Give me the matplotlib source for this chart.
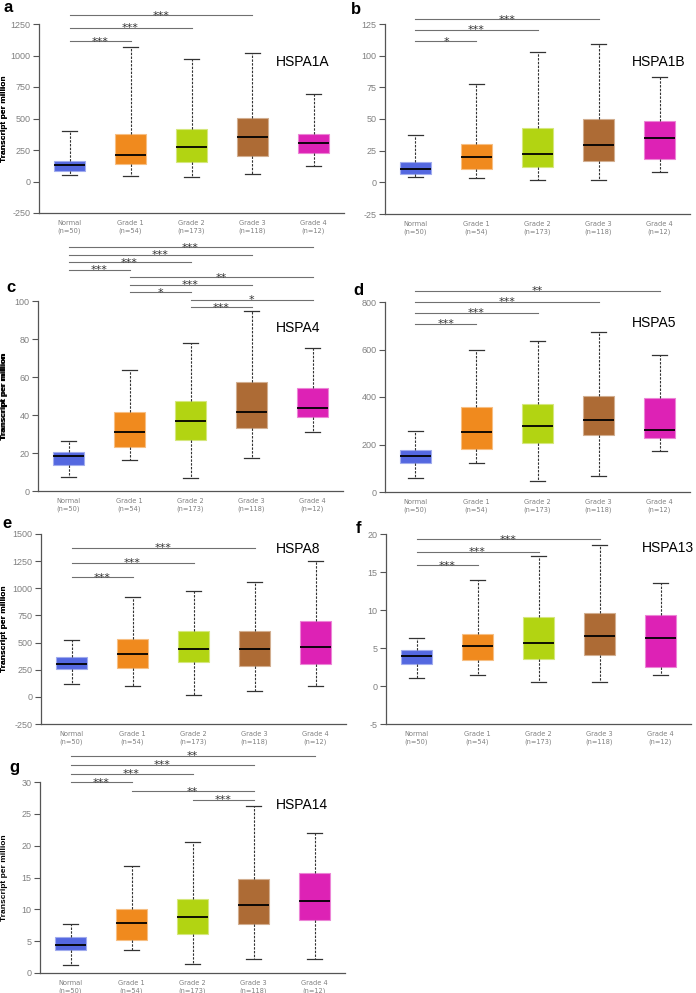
import matplotlib
matplotlib.use('Agg')
import matplotlib.pyplot as plt
import matplotlib.transforms as mtransforms
from matplotlib.colors import to_rgb

plt.rcParams['font.family'] = ['Liberation Sans', 'DejaVu Sans']

W, H = 696, 993

categories = ['Normal', 'Grade 1', 'Grade 2', 'Grade 3', 'Grade 4']
sample_sizes = [50, 54, 173, 118, 12]
box_colors = ['#5468E0', '#F08A1E', '#B2D412', '#AD6B35', '#DD22B5']

# box statistics: lower whisker, Q1, median, Q3, upper whisker
HSPA1A_lo = [53, 40, 34, 58, 124]
HSPA1A_q1 = [87, 137, 158, 206, 230]
HSPA1A_med = [127, 214, 275, 354, 309]
HSPA1A_q3 = [166, 380, 417, 502, 380]
HSPA1A_hi = [401, 1069, 974, 1016, 697]
HSPA1A_pairs = [(0, 1), (0, 2), (0, 3)]
HSPA1A_stars = ['***', '***', '***']

HSPA1B_lo = [3.9, 3.2, 1.8, 1.8, 8.4]
HSPA1B_q1 = [6.3, 10.3, 12.4, 16.8, 18.4]
HSPA1B_med = [10.3, 19.7, 22.6, 29.2, 35.2]
HSPA1B_q3 = [15.8, 30.0, 42.6, 50.0, 48.7]
HSPA1B_hi = [37.3, 77.3, 102.6, 109.4, 83.4]
HSPA1B_pairs = [(0, 1), (0, 2), (0, 3)]
HSPA1B_stars = ['*', '***', '***']

HSPA4_lo = [7.2, 16.1, 6.7, 17.4, 30.8]
HSPA4_q1 = [13.8, 23.1, 26.8, 33.1, 39.0]
HSPA4_med = [18.4, 31.0, 36.6, 41.8, 43.9]
HSPA4_q3 = [20.7, 41.6, 47.4, 57.5, 54.4]
HSPA4_hi = [26.1, 63.5, 77.8, 94.6, 75.5]
HSPA4_pairs = [(2, 3), (2, 4), (1, 2), (1, 3), (1, 4), (0, 1), (0, 2), (0, 3), (0, 4)]
HSPA4_stars = ['***', '*', '*', '***', '**', '***', '***', '***', '***']

HSPA5_lo = [61, 121, 47, 66, 173]
HSPA5_q1 = [124, 183, 205, 239, 226]
HSPA5_med = [150, 253, 276, 303, 260]
HSPA5_q3 = [176, 357, 371, 403, 396]
HSPA5_hi = [257, 597, 636, 675, 576]
HSPA5_pairs = [(0, 1), (0, 2), (0, 3), (0, 4)]
HSPA5_stars = ['***', '***', '***', '**']

HSPA8_lo = [116, 98, 21, 52, 101]
HSPA8_q1 = [257, 266, 318, 288, 300]
HSPA8_med = [300, 398, 441, 441, 460]
HSPA8_q3 = [368, 533, 603, 610, 695]
HSPA8_hi = [524, 919, 971, 1059, 1249]
HSPA8_pairs = [(0, 1), (0, 2), (0, 3)]
HSPA8_stars = ['***', '***', '***']

HSPA13_lo = [1.1, 1.4, 0.48, 0.53, 1.4]
HSPA13_q1 = [2.9, 3.4, 3.6, 4.07, 2.5]
HSPA13_med = [3.9, 5.25, 5.65, 6.56, 6.26]
HSPA13_q3 = [4.77, 6.8, 9.06, 9.6, 9.4]
HSPA13_hi = [6.3, 13.9, 17.1, 18.5, 13.5]
HSPA13_pairs = [(0, 1), (0, 2), (0, 3)]
HSPA13_stars = ['***', '***', '***']

HSPA14_lo = [1.26, 3.6, 1.47, 2.15, 2.15]
HSPA14_q1 = [3.56, 5.2, 6.2, 7.7, 8.3]
HSPA14_med = [4.4, 7.9, 8.8, 10.7, 11.36]
HSPA14_q3 = [5.7, 10.05, 11.7, 14.7, 15.76]
HSPA14_hi = [7.75, 16.75, 20.5, 26.3, 22.0]
HSPA14_pairs = [(2, 3), (1, 3), (0, 1), (0, 2), (0, 3), (0, 4)]
HSPA14_stars = ['***', '**', '***', '***', '***', '**']

# layout (pixels): letter, gene, axes left, axes top, axes bottom, yticks,
# first bracket offset below axes top, bracket step, gene label pos, letter pos
panels = [
    dict(letter='a', gene='HSPA1A', data=(HSPA1A_lo, HSPA1A_q1, HSPA1A_med, HSPA1A_q3, HSPA1A_hi),
         pairs=HSPA1A_pairs, stars=HSPA1A_stars, left=39, top=24, bottom=213,
         yt=(-250, 1250, 250), off=17, step=13, gpos=(303, 62), lpos=(3, 12.5)),
    dict(letter='b', gene='HSPA1B', data=(HSPA1B_lo, HSPA1B_q1, HSPA1B_med, HSPA1B_q3, HSPA1B_hi),
         pairs=HSPA1B_pairs, stars=HSPA1B_stars, left=385, top=24, bottom=214,
         yt=(-25, 125, 25), off=17, step=11, gpos=(659, 62), lpos=(351, 13.5)),
    dict(letter='c', gene='HSPA4', data=(HSPA4_lo, HSPA4_q1, HSPA4_med, HSPA4_q3, HSPA4_hi),
         pairs=HSPA4_pairs, stars=HSPA4_stars, left=38, top=301, bottom=491,
         yt=(0, 100, 20), off=6, step=7.5, gpos=(298, 328), lpos=(6, 292)),
    dict(letter='d', gene='HSPA5', data=(HSPA5_lo, HSPA5_q1, HSPA5_med, HSPA5_q3, HSPA5_hi),
         pairs=HSPA5_pairs, stars=HSPA5_stars, left=385, top=302, bottom=492,
         yt=(0, 800, 200), off=22, step=11.1, gpos=(654, 323), lpos=(353, 295)),
    dict(letter='e', gene='HSPA8', data=(HSPA8_lo, HSPA8_q1, HSPA8_med, HSPA8_q3, HSPA8_hi),
         pairs=HSPA8_pairs, stars=HSPA8_stars, left=41, top=534, bottom=724,
         yt=(-250, 1500, 250), off=43, step=14.5, gpos=(298, 549), lpos=(2, 528)),
    dict(letter='f', gene='HSPA13', data=(HSPA13_lo, HSPA13_q1, HSPA13_med, HSPA13_q3, HSPA13_hi),
         pairs=HSPA13_pairs, stars=HSPA13_stars, left=386, top=534, bottom=724,
         yt=(-5, 20, 5), off=31, step=13, gpos=(668, 548), lpos=(356, 533)),
    dict(letter='g', gene='HSPA14', data=(HSPA14_lo, HSPA14_q1, HSPA14_med, HSPA14_q3, HSPA14_hi),
         pairs=HSPA14_pairs, stars=HSPA14_stars, left=40, top=782, bottom=973,
         yt=(0, 30, 5), off=18, step=8.8, gpos=(302, 805), lpos=(9, 772)),
]

AX_W = 305
fig = plt.figure(figsize=(W / 100, H / 100), dpi=100)


def lighten(c, f=0.45):
    r, g, b = to_rgb(c)
    return (r + (1 - r) * f, g + (1 - g) * f, b + (1 - b) * f)


for p in panels:
    hpx = p['bottom'] - p['top']
    ax = fig.add_axes([p['left'] / W, 1 - p['bottom'] / H, AX_W / W, hpx / H])
    lo, q1, med, q3, hi = p['data']
    stats = [dict(whislo=lo[i], q1=q1[i], med=med[i], q3=q3[i], whishi=hi[i], fliers=[])
             for i in range(len(categories))]
    bp = ax.bxp(stats, positions=range(len(categories)), widths=0.5, patch_artist=True,
                showfliers=False,
                medianprops=dict(color='black', linewidth=1.3),
                whiskerprops=dict(color='#333333', linewidth=0.8, linestyle=(0, (2.2, 1.2))),
                capprops=dict(color='#333333', linewidth=0.9),
                capwidths=0.25)
    for patch, c in zip(bp['boxes'], box_colors):
        patch.set_facecolor(c)
        patch.set_edgecolor(lighten(c))
        patch.set_linewidth(0.8)

    ymin, ymax, ystep = p['yt']
    ax.set_ylim(ymin, ymax)
    ax.set_xlim(-0.5, 4.5)
    ticks = list(range(ymin, ymax + 1, ystep))
    ax.set_yticks(ticks)
    ax.set_yticklabels([str(t) for t in ticks], fontsize=6.5, color='#808080')
    ax.set_xticks(range(len(categories)))
    ax.set_xticklabels([f'{c}\n(n={n})' for c, n in zip(categories, sample_sizes)],
                       fontsize=4.8, color='#808080', family='DejaVu Sans', linespacing=1.25)
    ax.tick_params(axis='x', length=0, pad=5)
    ax.tick_params(axis='y', length=4, width=0.8, color='#555555', pad=2)
    for s in ['top', 'right']:
        ax.spines[s].set_visible(False)
    for s in ['left', 'bottom']:
        ax.spines[s].set_color('#555555')
        ax.spines[s].set_linewidth(0.9)
    ax.set_ylabel('Transcript per million', fontsize=6, fontweight='bold')
    ax.yaxis.set_label_coords((8 - p['left']) / AX_W, 0.5)

    trans = mtransforms.blended_transform_factory(ax.transData, ax.transAxes)
    ttrans = mtransforms.offset_copy(trans, fig=fig, y=-3.5, units='dots')
    for k, ((i, j), s) in enumerate(zip(p['pairs'], p['stars'])):
        yfrac = 1 - (p['off'] - k * p['step']) / hpx
        ax.plot([i, j], [yfrac, yfrac], transform=trans, color='#707070', lw=0.8,
                clip_on=False)
        ax.text((i + j) / 2, yfrac, s, transform=ttrans, ha='center', va='baseline',
                fontsize=8, color='#333333', family='DejaVu Sans', clip_on=False)

    gx, gy = p['gpos']
    fig.text(gx / W, 1 - gy / H, p['gene'], ha='center', va='center', fontsize=10)
    lx, ly = p['lpos']
    fig.text(lx / W, 1 - ly / H, p['letter'], ha='left', va='baseline', fontsize=12,
             fontweight='bold')

fig.savefig('out.png', dpi=100)
